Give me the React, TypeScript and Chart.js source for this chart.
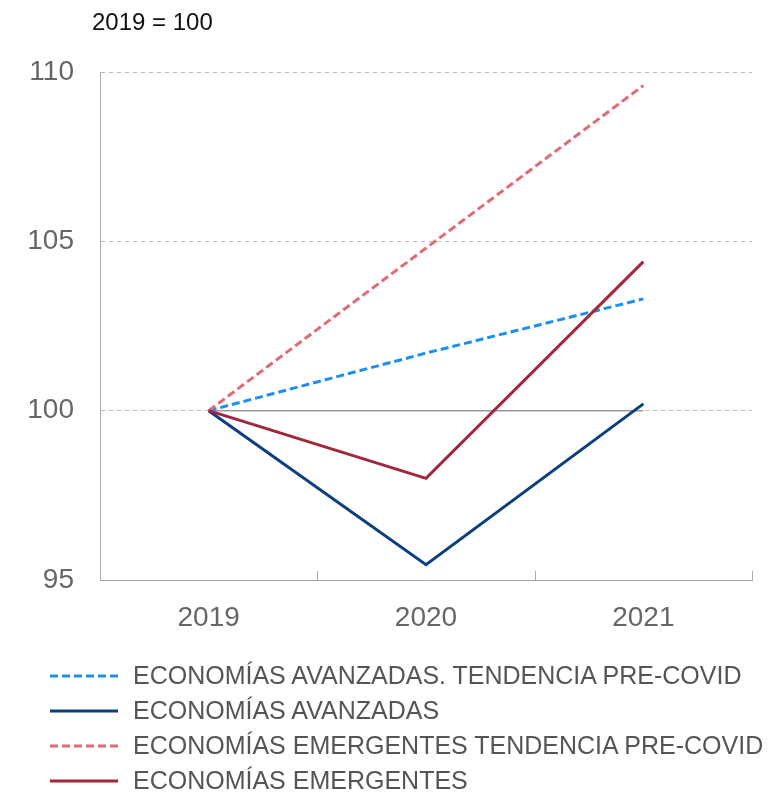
import React, { useEffect, useRef } from "react";
import { Chart, registerables } from "chart.js";

Chart.register(...registerables);

const years = ["2019", "2020", "2021"];
const avanzadasTendencia = [100, 101.7, 103.3];
const avanzadas = [100, 95.45, 100.2];
const emergentesTendencia = [100, 104.8, 109.6];
const emergentes = [100, 98.0, 104.4];
const baseline = [100, 100, 100];
const yTicks = [95, 100, 105, 110];

const seriesNames = [
  "ECONOMÍAS AVANZADAS. TENDENCIA PRE-COVID",
  "ECONOMÍAS AVANZADAS",
  "ECONOMÍAS EMERGENTES TENDENCIA PRE-COVID",
  "ECONOMÍAS EMERGENTES",
];
const seriesColors = ["#1f8ef1", "#0b3f7e", "#df6b77", "#a1283b"];
const seriesDashed = [true, false, true, false];
const seriesValues = [avanzadasTendencia, avanzadas, emergentesTendencia, emergentes];

const FONT = "'Liberation Sans', Arial, sans-serif";

const upTicksPlugin = {
  id: "upTicks",
  afterDraw(chart: any) {
    const x = chart.scales.x;
    const ctx = chart.ctx;
    ctx.save();
    ctx.strokeStyle = "#a8a8a8";
    ctx.lineWidth = 1;
    for (let k = 0; k <= years.length; k++) {
      const px = Math.round(x.getPixelForValue(k - 0.5)) + 0.5;
      ctx.beginPath();
      ctx.moveTo(px, x.top);
      ctx.lineTo(px, x.top - 9);
      ctx.stroke();
    }
    ctx.restore();
  },
};

export default function App() {
  const ref = useRef<HTMLCanvasElement>(null);
  useEffect(() => {
    document.body.style.margin = "0";
    const datasets: any[] = seriesValues.map((vals, i) => ({
      label: seriesNames[i],
      data: vals,
      borderColor: seriesColors[i],
      backgroundColor: seriesColors[i],
      borderWidth: 3,
      borderDash: seriesDashed[i] ? [8, 4] : [],
      pointRadius: 0,
      fill: false,
      tension: 0,
      order: 4 - i,
    }));
    datasets.push({
      label: "base",
      data: baseline,
      borderColor: "#9a9a9a",
      borderWidth: 1.5,
      pointRadius: 0,
      fill: false,
      order: 10,
    });
    const chart = new Chart(ref.current!, {
      type: "line",
      data: { labels: years, datasets },
      plugins: [upTicksPlugin],
      options: {
        animation: false,
        responsive: false,
        maintainAspectRatio: false,
        layout: { padding: { top: 72, right: 16, left: 0, bottom: 0 } },
        plugins: { legend: { display: false }, tooltip: { enabled: false } },
        scales: {
          x: {
            type: "category",
            offset: true,
            grid: { display: false, offset: true },
            border: { display: true, color: "#a8a8a8", width: 1 },
            ticks: {
              color: "#666",
              font: { family: FONT, size: 28 },
              padding: 13,
            },
            afterFit(scale: any) {
              scale.height = 212;
            },
          },
          y: {
            min: 95,
            max: 110,
            afterBuildTicks(scale: any) {
              scale.ticks = yTicks.map((v) => ({ value: v }));
            },
            grid: { color: "#bdbdbd", lineWidth: 1, drawTicks: false },
            border: { display: true, color: "#a8a8a8", width: 1, dash: [4, 4] },
            ticks: {
              color: "#666",
              font: { family: FONT, size: 28 },
              padding: 26,
            },
            afterFit(scale: any) {
              scale.width = 100;
            },
          },
        },
      },
    });
    return () => chart.destroy();
  }, []);

  return (
    <div style={{ position: "relative", width: 768, height: 792, fontFamily: FONT }}>
      <canvas ref={ref} width={768} height={792} style={{ display: "block" }} />
      <div
        style={{
          position: "absolute",
          left: 92,
          top: 8,
          fontSize: 24,
          color: "#111",
          lineHeight: "28px",
        }}
      >
        2019 = 100
      </div>
      <div style={{ position: "absolute", left: 50, top: 658 }}>
        {seriesNames.map((name, i) => (
          <div
            key={name}
            style={{ display: "flex", alignItems: "center", height: 35, whiteSpace: "nowrap" }}
          >
            <svg width={68} height={6} style={{ marginRight: 15, flex: "none" }}>
              <line
                x1={0}
                y1={3}
                x2={68}
                y2={3}
                stroke={seriesColors[i]}
                strokeWidth={3}
                strokeDasharray={seriesDashed[i] ? "8 4" : undefined}
              />
            </svg>
            <span style={{ fontSize: 25, color: "#555" }}>{name}</span>
          </div>
        ))}
      </div>
    </div>
  );
}
